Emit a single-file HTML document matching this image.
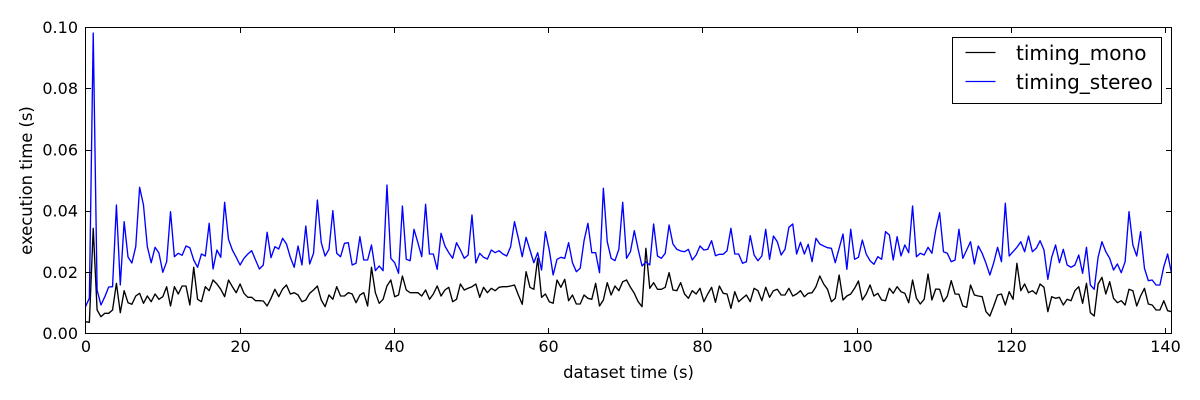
<!DOCTYPE html>
<html>
<head>
<meta charset="utf-8">
<style>
  html, body { margin: 0; padding: 0; background: #ffffff; }
  svg { display: block; }
  text { font-family: "DejaVu Sans", "Liberation Sans", sans-serif; fill: #000; }
</style>
</head>
<body>
<svg width="1200" height="400" viewBox="0 0 1200 400" xmlns="http://www.w3.org/2000/svg">
  <rect x="0" y="0" width="1200" height="400" fill="#ffffff"/>
  <defs>
    <clipPath id="ax">
      <rect x="85.5" y="27.5" width="1086" height="306"/>
    </clipPath>
  </defs>

  <g clip-path="url(#ax)">
    <g transform="translate(85.5,0) scale(3.8648,1)">
      <polyline fill="none" stroke="#000000" stroke-width="1.35" stroke-linejoin="round" vector-effect="non-scaling-stroke"
        points="0,321.7 1,322.3 2,228.3 3,310 4,316.7 5,313.3 6,313.3 7,310 8,283.3 9,312.7 10,290.7 11,302.7 12,304.3 13,296 14,293.3 15,303.3 16,296 17,301.7 18,294 19,299.3 20,296.7 21,286.7 22,306 23,286.7 24,294 25,286 26,286 27,305 28,267.3 29,299.3 30,301.7 31,286.7 32,290.7 33,280 34,284 35,289.3 36,296.7 37,280 38,286.7 39,292.7 40,284 41,293.3 42,297.3 43,297.3 44,300.7 45,300.7 46,301 47,306 48,298.3 49,289.3 50,296.7 51,289 52,285 53,294 54,292.7 55,295 56,301.7 57,300 58,293.3 59,290 60,286 61,300 62,306.7 63,295 64,299.3 65,286.7 66,296 67,296 68,292.7 69,294 70,302.7 71,295 72,292.7 73,306 74,267.3 75,292.7 76,303.3 77,299.3 78,286 79,280 80,296.7 81,295 82,276 83,290 84,292.7 85,292.7 86,292.7 87,296 88,290 89,299.3 90,294 91,286 92,296 93,290 94,287.3 95,301.7 96,299.3 97,284 98,290 99,288.3 100,286.7 101,284 102,297.3 103,287.3 104,292.7 105,288.3 106,290.7 107,287.3 108,286.7 109,286.7 110,286 111,285 112,295 113,304.3 114,271.7 115,287.3 116,289.3 117,258.3 118,297.3 119,294 120,301.7 121,303.3 122,280 123,287.3 124,279.3 125,300.7 126,295 127,304 128,304 129,295 130,298.3 131,299.3 132,283.3 133,306 134,300 135,282.7 136,295 137,286 138,290.7 139,281.7 140,280 141,287.3 142,293.3 143,301.7 144,306.7 145,248.3 146,288.3 147,282.7 148,289.3 149,289.3 150,287.3 151,272.7 152,290 153,290.7 154,282.7 155,294 156,298.3 157,290.7 158,294 159,288.3 160,301.7 161,294 162,287.3 163,302.3 164,286 165,293.3 166,294 167,308.3 168,291.7 169,301.7 170,298.3 171,295 172,301.7 173,288.3 174,290.7 175,300.7 176,287.3 177,297.3 178,290.7 179,289.3 180,295 181,295 182,288.3 183,296 184,294 185,290.7 186,296.7 187,293.3 188,292.7 189,286.7 190,276 191,284 192,289.3 193,301.7 194,298.3 195,275 196,300 197,296 198,294 199,288.3 200,281 201,300 202,294 203,285 204,296 205,293.3 206,300 207,300.7 208,288.3 209,293.3 210,286.7 211,291.7 212,293.3 213,302.7 214,280 215,298.3 216,304 217,299.3 218,274 219,300 220,289 221,289.3 222,301.7 223,296 224,280.7 225,294 226,294.3 227,306 228,307.3 229,285 230,295 231,296 232,296.7 233,311.7 234,316 235,306 236,295 237,294 238,305 239,291.7 240,299.3 241,263.3 242,290.7 243,284 244,292.7 245,290.7 246,294 247,284 248,287.3 249,311.7 250,296.7 251,298.3 252,297.3 253,305 254,299.3 255,300.7 256,290.7 257,286.7 258,303.3 259,283.3 260,312.7 261,316 262,284 263,277.3 264,294 265,281.7 266,298.3 267,302.7 268,300.7 269,305 270,289.3 271,290.7 272,306 273,296 274,288.3 275,304 276,305 277,310 278,310 279,300.7 280,310.7 281,311.7"/>
      <polyline fill="none" stroke="#0000ff" stroke-width="1.35" stroke-linejoin="round" vector-effect="non-scaling-stroke"
        points="0,306.7 1,298 2,33 3,290 4,305 5,296.7 6,287 7,286.7 8,205 9,285 10,221.7 11,257 12,263 13,246.7 14,187.3 15,205 16,246.7 17,262.7 18,247.3 19,253 20,272.3 21,261.7 22,211.7 23,256.7 24,253.3 25,255.3 26,246 27,247.7 28,260 29,267.3 30,254 31,256 32,223.3 33,269 34,250 35,257.3 36,202.3 37,239.3 38,250 39,257.3 40,265 41,258.3 42,254 43,250.7 44,260 45,269 46,265 47,232.3 48,257.7 49,246.7 50,249 51,238.3 52,244 53,257.3 54,267.3 55,246 56,265 57,226 58,264 59,253.3 60,200 61,242.7 62,256 63,249.3 64,210.7 65,253.3 66,256.7 67,243.3 68,242.7 69,265 70,263.3 71,236.7 72,260 73,260 74,245 75,270.7 76,266 77,270.7 78,185 79,258.3 80,262.7 81,273.3 82,206 83,259.3 84,260.7 85,229.3 86,242.7 87,256.7 88,204.3 89,254 90,254 91,269.3 92,233.3 93,246 94,252.7 95,258.3 96,242.7 97,250 98,258.3 99,255 100,215 101,263 102,253.3 103,257.3 104,259 105,250 106,252.7 107,250.7 108,254 109,256 110,246.7 111,221.7 112,238.3 113,256.7 114,237.3 115,250 116,262.7 117,252.7 118,270 119,231.7 120,250 121,275 122,259.3 123,257.3 124,258.3 125,242.7 126,262.7 127,271.7 128,268.3 129,240.7 130,223.3 131,252.7 132,252.7 133,272.7 134,188.3 135,241.7 136,258.3 137,260.7 138,249.3 139,202.3 140,258.3 141,251.7 142,230.7 143,249.3 144,266 145,262 146,265 147,224 148,256 149,258.3 150,253.3 151,225 152,244 153,249.3 154,251 155,251.7 156,249.3 157,260 158,255 159,246 160,250 161,249.3 162,240.7 163,255.7 164,254.3 165,254.3 166,250.7 167,228.3 168,254 169,254 170,263.3 171,261.7 172,235.7 173,255 174,260.7 175,256 176,229.3 177,259.3 178,236 179,241.7 180,255 181,249.3 182,227.3 183,224 184,254 185,242.3 186,254 187,244.3 188,261.7 189,238.3 190,244 191,246 192,247.7 193,248.3 194,262.7 195,248.3 196,234 197,269.3 198,229.3 199,259.3 200,257.3 201,240 202,254 203,260.7 204,264.3 205,256.7 206,259.3 207,231.7 208,235 209,260 210,236.7 211,256 212,245 213,252.7 214,206 215,256.7 216,253.3 217,255 218,247.3 219,253.3 220,230 221,212.7 222,251.7 223,253.3 224,261.7 225,260 226,229.3 227,258.3 228,250 229,241.7 230,264 231,246 232,253.3 233,263.3 234,275 235,262.7 236,247.3 237,261.7 238,203.3 239,256 240,251.7 241,247.3 242,241.7 243,251.7 244,236 245,251.7 246,248.3 247,240.7 248,250 249,279.3 250,257.3 251,245 252,262.7 253,249.3 254,265 255,267.3 256,265 257,255 258,273.3 259,247.3 260,285 261,289.3 262,257.3 263,241.7 264,251.7 265,258.3 266,270 267,264 268,272.7 269,261.7 270,211.7 271,245 272,256 273,231.7 274,268.3 275,280.7 276,280 277,285 278,285 279,266.7 280,254 281,273.3"/>
    </g>
  </g>

  <!-- axes frame -->
  <rect x="85.5" y="27.5" width="1086" height="306" fill="none" stroke="#000" stroke-width="1"/>

  <!-- x ticks -->
  <g stroke="#000" stroke-width="1">
    <line x1="240.5" y1="333.5" x2="240.5" y2="328"/><line x1="240.5" y1="27.5" x2="240.5" y2="33"/>
    <line x1="394.5" y1="333.5" x2="394.5" y2="328"/><line x1="394.5" y1="27.5" x2="394.5" y2="33"/>
    <line x1="548.5" y1="333.5" x2="548.5" y2="328"/><line x1="548.5" y1="27.5" x2="548.5" y2="33"/>
    <line x1="702.5" y1="333.5" x2="702.5" y2="328"/><line x1="702.5" y1="27.5" x2="702.5" y2="33"/>
    <line x1="857.5" y1="333.5" x2="857.5" y2="328"/><line x1="857.5" y1="27.5" x2="857.5" y2="33"/>
    <line x1="1011.5" y1="333.5" x2="1011.5" y2="328"/><line x1="1011.5" y1="27.5" x2="1011.5" y2="33"/>
    <line x1="1165.5" y1="333.5" x2="1165.5" y2="328"/><line x1="1165.5" y1="27.5" x2="1165.5" y2="33"/>
    <!-- y ticks -->
    <line x1="85.5" y1="272.5" x2="91" y2="272.5"/><line x1="1171.5" y1="272.5" x2="1166" y2="272.5"/>
    <line x1="85.5" y1="211.5" x2="91" y2="211.5"/><line x1="1171.5" y1="211.5" x2="1166" y2="211.5"/>
    <line x1="85.5" y1="150.5" x2="91" y2="150.5"/><line x1="1171.5" y1="150.5" x2="1166" y2="150.5"/>
    <line x1="85.5" y1="88.5" x2="91" y2="88.5"/><line x1="1171.5" y1="88.5" x2="1166" y2="88.5"/>
  </g>

  <!-- x tick labels -->
  <g font-size="16" text-anchor="middle">
    <text x="86" y="352">0</text>
    <text x="240.5" y="352">20</text>
    <text x="394.5" y="352">40</text>
    <text x="548.5" y="352">60</text>
    <text x="702.5" y="352">80</text>
    <text x="857.5" y="352">100</text>
    <text x="1011.5" y="352">120</text>
    <text x="1165.5" y="352">140</text>
  </g>

  <!-- y tick labels -->
  <g font-size="16" text-anchor="end">
    <text x="78" y="339">0.00</text>
    <text x="78" y="277.8">0.02</text>
    <text x="78" y="216.6">0.04</text>
    <text x="78" y="155.4">0.06</text>
    <text x="78" y="94.2">0.08</text>
    <text x="78" y="33">0.10</text>
  </g>

  <!-- axis labels -->
  <text x="628.5" y="378" font-size="16.4" text-anchor="middle">dataset time (s)</text>
  <text transform="translate(32,180.5) rotate(-90)" font-size="16.4" text-anchor="middle">execution time (s)</text>

  <!-- legend -->
  <rect x="952.5" y="37.5" width="209" height="66" fill="#ffffff" stroke="#000" stroke-width="1"/>
  <line x1="965.5" y1="52.5" x2="995.5" y2="52.5" stroke="#000000" stroke-width="1.35"/>
  <line x1="965.5" y1="81.5" x2="995.5" y2="81.5" stroke="#0000ff" stroke-width="1.35"/>
  <text x="1016" y="60" font-size="20">timing_mono</text>
  <text x="1016" y="89" font-size="20">timing_stereo</text>
</svg>
</body>
</html>
